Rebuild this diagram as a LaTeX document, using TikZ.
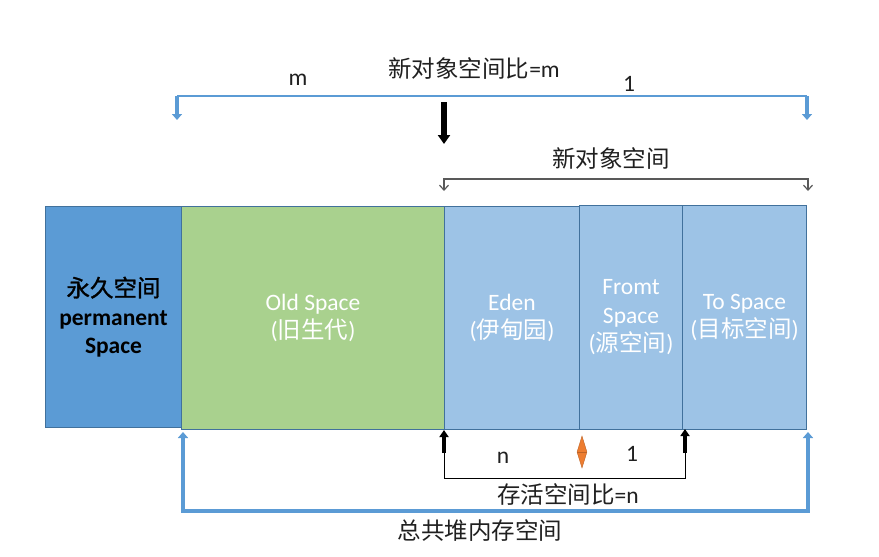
\documentclass[tikz,border=0pt]{standalone}
\usepackage{fontspec}
\setmainfont{Carlito}
\newfontfamily\cjk{Noto Sans CJK SC}
\newfontfamily\cjkb[FakeBold=1.2]{Noto Sans CJK SC}
\usetikzlibrary{arrows.meta,shapes.geometric}
\definecolor{permblue}{HTML}{5B9BD5}
\definecolor{oldgreen}{HTML}{A9D18E}
\definecolor{newblue}{HTML}{9DC3E6}
\definecolor{edgeblue}{HTML}{41719C}
\definecolor{orangeD}{HTML}{ED7D31}
\definecolor{txt}{HTML}{202020}
\definecolor{grayline}{HTML}{595959}
\begin{document}
\begin{tikzpicture}[x=1pt,y=-1pt,
  font=\fontsize{23.5}{28.5}\selectfont,
  region/.style={draw=edgeblue, line width=1pt, anchor=north west, inner sep=0pt,
    align=center, text=white},
  lbl/.style={text=txt, inner sep=0pt},
  thinblue/.style={draw=permblue, line width=1.2pt},
  blockblue/.style={draw=permblue, line width=4.5pt, -{Triangle[width=10pt,length=6pt]}},
  blockblack/.style={draw=black, line width=5.5pt, -{Triangle[width=12pt,length=9pt]}},
  upblack/.style={draw=black, line width=4.5pt, -{Triangle[width=9pt,length=7pt]}},
  graybrk/.style={draw=grayline, line width=1.2pt, {Straight Barb[width=9pt,length=5pt]}-{Straight Barb[width=9pt,length=5pt]}},
  blackbrk/.style={draw=black, line width=1pt},
  bluebrk/.style={draw=permblue, line width=3.5pt, {Triangle[width=10pt,length=6pt]}-{Triangle[width=10pt,length=6pt]}},
]
\useasboundingbox (0,0) rectangle (879,557);
\fill[white] (0,0) rectangle (879,557);

% regions
\node[region, fill=permblue, text=black, minimum width=136pt, minimum height=221pt] (perm) at (45,206)
  {{\cjkb 永久空间}\\\textbf{permanent}\\\textbf{Space}};
\node[region, fill=oldgreen, minimum width=263pt, minimum height=223pt] (old) at (181,206)
  {Old Space\\({\cjk 旧生代})};
\node[region, fill=newblue, minimum width=135pt, minimum height=223pt] (eden) at (444,206)
  {Eden\\({\cjk 伊甸园})};
\node[region, fill=newblue, minimum width=103pt, minimum height=224pt] (from) at (579,205)
  {Fromt\\Space\\({\cjk 源空间})};
\node[region, fill=newblue, minimum width=124pt, minimum height=224pt] (to) at (682,205)
  {To Space\\({\cjk 目标空间})};

% top ratio bracket
\coordinate (tl) at (177,96);
\coordinate (tr) at (807,96);
\coordinate (tlb) at (177,120);
\coordinate (trb) at (807,120);
\draw[thinblue] (tl) -- (tr);
\draw[blockblue] (tl) -- (tlb);
\draw[blockblue] (tr) -- (trb);
\node[lbl] (title) at (474,68) {{\cjk 新对象空间比}=m};
\node[lbl] (m) at (298,80) {m};
\node[lbl] (one) at (629,84) {1};
\coordinate (ba) at (444,102);
\coordinate (bb) at (444,144);
\draw[blockblack] (ba) -- (bb);

% new object space bracket
\node[lbl] (newsp) at (611,158) {\cjk 新对象空间};
\coordinate (nL) at (444,191);
\coordinate (nA) at (444,179);
\coordinate (nB) at (808,179);
\coordinate (nR) at (808,191);
\draw[graybrk] (nL) -- (nA) -- (nB) -- (nR);

% survivor ratio bracket
\coordinate (sL) at (444,453);
\coordinate (sLb) at (444,478);
\coordinate (sRb) at (685,478);
\coordinate (sR) at (685,453);
\coordinate (sRt) at (685,429);
\draw[blackbrk] (sL) -- (sLb) -- (sRb) -- (sR);
\draw[upblack] (sL) -- (eden.south west);
\draw[upblack] (sR) -- (sRt);
\node[lbl] (n) at (503,458) {n};
\node[lbl] (one2) at (632,454) {1};
\node[diamond, fill=orangeD, draw=orangeD!80!black, line width=0.4pt, inner sep=0pt,
  minimum width=10pt, minimum height=32pt] (dia) at (582,452) {};
\draw[orangeD!80!black, line width=0.4pt] (dia.west) -- (dia.east);
\node[lbl] (surv) at (568,494) {{\cjk 存活空间比}=n};

% total heap bracket
\coordinate (hA) at (183,432);
\coordinate (hAb) at (183,511);
\coordinate (hBb) at (808,511);
\coordinate (hB) at (808,432);
\draw[bluebrk] (hA) -- (hAb) -- (hBb) -- (hB);
\node[lbl] (total) at (480,531) {\cjk 总共堆内存空间};
\end{tikzpicture}
\end{document}
